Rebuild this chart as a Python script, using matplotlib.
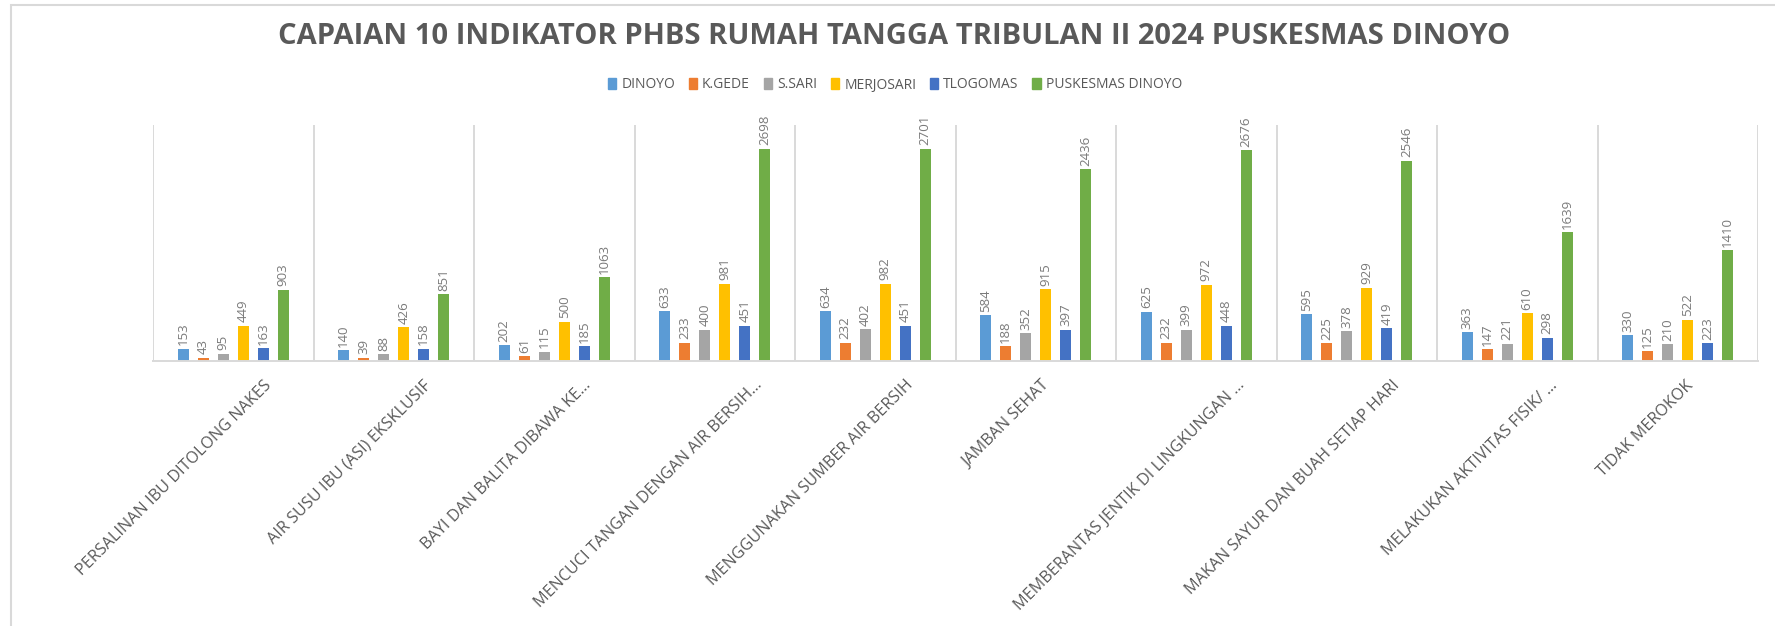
import numpy as np
import matplotlib
matplotlib.use('Agg')
import matplotlib.pyplot as plt
import matplotlib.transforms as mtransforms
import matplotlib.patches as mpatches

# data
categories = [
    'PERSALINAN IBU DITOLONG NAKES',
    'AIR SUSU IBU (ASI) EKSKLUSIF',
    'BAYI DAN BALITA DIBAWA KE...',
    'MENCUCI TANGAN DENGAN AIR BERSIH...',
    'MENGGUNAKAN SUMBER AIR BERSIH',
    'JAMBAN SEHAT',
    'MEMBERANTAS JENTIK DI LINGKUNGAN ...',
    'MAKAN SAYUR DAN BUAH SETIAP HARI',
    'MELAKUKAN AKTIVITAS FISIK/ ...',
    'TIDAK MEROKOK',
]
series_names = ['DINOYO', 'K.GEDE', 'S.SARI', 'MERJOSARI', 'TLOGOMAS', 'PUSKESMAS DINOYO']
dinoyo    = [153, 140, 202, 633, 634, 584, 625, 595, 363, 330]
kgede     = [43, 39, 61, 233, 232, 188, 232, 225, 147, 125]
ssari     = [95, 88, 115, 400, 402, 352, 399, 378, 221, 210]
merjosari = [449, 426, 500, 981, 982, 915, 972, 929, 610, 522]
tlogomas  = [163, 158, 185, 451, 451, 397, 448, 419, 298, 223]
puskesmas = [903, 851, 1063, 2698, 2701, 2436, 2676, 2546, 1639, 1410]
series_values = [dinoyo, kgede, ssari, merjosari, tlogomas, puskesmas]

COLORS = ['#5B9BD5', '#ED7D31', '#A5A5A5', '#FFC000', '#4472C4', '#70AD47']
TEXT = '#595959'
GRID = '#d9d9d9'

fig = plt.figure(figsize=(17.75, 6.26), dpi=100)
ax = fig.add_axes([153 / 1775, 265 / 626, 1605 / 1775, 236 / 626])

# chart area border (Excel style)
fig.patches.append(mpatches.Rectangle((11 / 1775, -0.1), 1.2, 1.1 - 5 / 626,
                                      transform=fig.transFigure, fill=False,
                                      edgecolor=GRID, linewidth=1.5))

x = np.arange(len(categories))
pitch = 0.1246
width = 0.0685
for j, (name, vals) in enumerate(zip(series_names, series_values)):
    rects = ax.bar(x + (j - 2.5) * pitch, vals, width, color=COLORS[j], label=name)
    ax.bar_label(rects, padding=2.5, rotation=90, fontsize=9.5, color='#7a7a7a',
                 family='Open Sans')

ax.set_xlim(-0.5, len(categories) - 0.5)
ax.set_ylim(0, 3000)
ax.set_yticks([])
ax.set_xticks([])
for b in np.arange(-0.5, len(categories)):
    ax.axvline(b, color=GRID, linewidth=1.4, zorder=0)
for s in ['top', 'left', 'right']:
    ax.spines[s].set_visible(False)
ax.spines['bottom'].set_color(GRID)
ax.spines['bottom'].set_linewidth(1.4)

# rotated category labels, Excel-like placement
for i, lab in enumerate(categories):
    dx = (1.45 * len(lab) - 6) / 100.0
    tr = ax.get_xaxis_transform() + mtransforms.ScaledTranslation(dx, -0.22, fig.dpi_scale_trans)
    ax.text(i, 0, lab, transform=tr, rotation=45, rotation_mode='anchor',
            ha='right', va='center', fontsize=11.6, color=TEXT, family='Open Sans')

fig.text(0.504, 1 - 37 / 626, 'CAPAIAN 10 INDIKATOR PHBS RUMAH TANGGA TRIBULAN II 2024 PUSKESMAS DINOYO',
         ha='center', va='center', fontsize=21, fontweight='bold', color=TEXT,
         family='Open Sans')

handles = [mpatches.Patch(color=c, label=n) for c, n in zip(COLORS, series_names)]
fig.legend(handles=handles, loc='center', ncol=6, frameon=False,
           bbox_to_anchor=(895 / 1775, 1 - 85 / 626),
           handlelength=0.6, handleheight=0.9, handletextpad=0.35, columnspacing=1.0,
           labelcolor=TEXT, prop={'family': 'Open Sans', 'size': 10})

fig.savefig('out.png', dpi=100)
